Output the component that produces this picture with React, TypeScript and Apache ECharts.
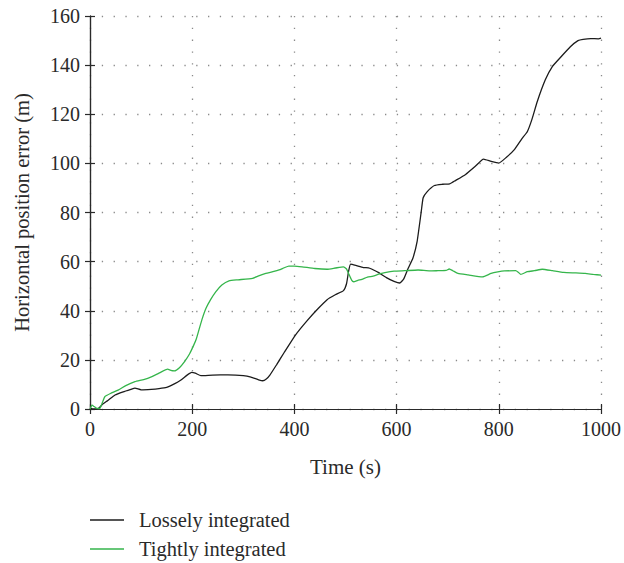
import React, { useEffect, useRef } from "react";
import * as echarts from "echarts";

const xTicks = [0, 200, 400, 600, 800, 1000];
const yTicks = [0, 20, 40, 60, 80, 100, 120, 140, 160];

const looseTime = [0, 8, 16, 25, 35, 49, 65, 80, 88, 100, 120, 135, 150, 165, 178, 190, 199, 206, 217, 240, 270, 300, 315, 330, 338, 345, 352, 365, 380, 402, 425, 447, 464, 480, 496, 502, 506, 510, 520, 535, 545, 551, 565, 580, 595, 606, 614, 622, 632, 640, 648, 652, 660, 674, 690, 704, 715, 735, 755, 770, 785, 800, 815, 830, 845, 856, 865, 875, 891, 905, 920, 940, 955, 965, 980, 995, 1000];
const looseValue = [0.3, 0, 0.2, 2, 3.5, 5.7, 7, 8, 8.5, 7.8, 8, 8.3, 8.8, 10.2, 11.8, 13.8, 14.9, 14.6, 13.6, 13.8, 13.9, 13.6, 13, 11.9, 11.5, 12.2, 13.8, 18, 23, 30.1, 36, 41, 44.5, 46.5, 48.2, 51, 56, 59, 58.5, 57.6, 57.5, 57, 55.5, 53.5, 52, 51.3, 53, 57, 61.5, 68, 80, 86, 88.5, 91, 91.5, 91.7, 93, 95.5, 99, 101.7, 100.8, 100.1, 102.5, 105.5, 110, 113, 118, 125, 134, 139.5, 143, 147.5, 150, 150.5, 150.8, 150.7, 151];

const tightTime = [0, 4, 8, 13, 19, 24, 29, 40, 55, 70, 88, 105, 120, 135, 152, 158, 165, 175, 185, 195, 203, 208, 214, 220, 227, 236, 246, 258, 272, 290, 318, 330, 344, 358, 370, 380, 389, 400, 415, 440, 464, 480, 496, 502, 506, 512, 516, 524, 532, 543, 554, 565, 577, 595, 616, 642, 665, 681, 697, 703, 710, 720, 740, 768, 785, 798, 811, 833, 838, 843, 856, 870, 885, 905, 927, 950, 969, 985, 1000];
const tightValue = [0, 1.6, 1, 0.3, 0.2, 2.5, 5, 6.3, 7.7, 9.5, 11.1, 12, 13.1, 14.6, 16.2, 15.7, 15.5, 16.8, 19.3, 22.5, 26, 28.5, 32.8, 37, 41, 44.5, 47.7, 50.5, 52.2, 52.6, 53.2, 54.2, 55.2, 55.9, 56.6, 57.5, 58.2, 58.2, 57.9, 57.2, 56.9, 57.4, 57.9, 57, 55.2, 52.5, 51.8, 52.4, 52.8, 53.7, 54.1, 54.9, 55.5, 56.1, 56.3, 56.6, 56.2, 56.3, 56.4, 57, 56.3, 55.2, 54.6, 53.8, 55.2, 55.8, 56.2, 56.3, 55.7, 54.8, 55.9, 56.3, 56.9, 56.3, 55.6, 55.4, 55.2, 54.8, 54.5];

const seriesNames = ["Lossely integrated", "Tightly integrated"];
const seriesColors = ["#1c1c1c", "#35b54b"];

const FONT = "Liberation Serif";
const TXT = "#2a2a2a";
const AX = "#2a2a2a";

export default function App() {
  const ref = useRef<HTMLDivElement>(null);
  useEffect(() => {
    if (!ref.current) return;
    const chart = echarts.init(ref.current, undefined, { renderer: "svg" });
    const zip = (t: number[], v: number[]) => t.map((x, i) => [x, v[i]]);
    const axisCommon = {
      axisLine: { show: true, lineStyle: { color: AX, width: 1.2 } },
      axisTick: { show: true, inside: true, length: 5, lineStyle: { color: AX, width: 1.2 } },
    };
    const grid = { show: true, lineStyle: { color: "#8a8a8a", width: 1.3, type: [1.3, 10.5] } };
    chart.setOption({
      animation: false,
      backgroundColor: "#ffffff",
      textStyle: { fontFamily: FONT },
      grid: { left: 90, top: 16, width: 514, height: 393, containLabel: false },
      legend: {
        orient: "vertical",
        left: 90,
        top: 509,
        padding: 0,
        itemWidth: 34,
        itemHeight: 1.5,
        itemGap: 7,
        icon: "rect",
        data: seriesNames,
        textStyle: { fontFamily: FONT, fontSize: 20.5, color: TXT, padding: [0, 0, 0, 10], lineHeight: 22 },
      },
      xAxis: [
        {
          type: "value",
          min: 0,
          max: 1000,
          interval: 200,
          position: "bottom",
          name: "Time (s)",
          nameLocation: "middle",
          nameGap: 47,
          nameTextStyle: { fontFamily: FONT, fontSize: 21, color: TXT },
          ...axisCommon,
          axisLabel: {
            fontFamily: FONT,
            fontSize: 20,
            color: TXT,
            margin: 10,
            customValues: xTicks,
            formatter: (v: number) => String(v),
          },
          splitLine: grid,
        },
        {
          type: "value",
          min: 0,
          max: 1000,
          interval: 200,
          position: "top",
          ...axisCommon,
          axisLabel: { show: false },
          splitLine: { show: false },
        },
      ],
      yAxis: [
        {
          type: "value",
          min: 0,
          max: 160,
          interval: 20,
          position: "left",
          name: "Horizontal position error (m)",
          nameLocation: "middle",
          nameGap: 58,
          nameTextStyle: { fontFamily: FONT, fontSize: 20.5, color: TXT },
          ...axisCommon,
          axisLabel: {
            fontFamily: FONT,
            fontSize: 20,
            color: TXT,
            margin: 10,
            customValues: yTicks,
            formatter: (v: number) => String(v),
          },
          splitLine: grid,
        },
        {
          type: "value",
          min: 0,
          max: 160,
          interval: 20,
          position: "right",
          ...axisCommon,
          axisLabel: { show: false },
          splitLine: { show: false },
        },
      ],
      series: [
        {
          name: seriesNames[0],
          type: "line",
          data: zip(looseTime, looseValue),
          showSymbol: false,
          symbol: "none",
          smooth: 0.15,
          lineStyle: { color: seriesColors[0], width: 1.3 },
          itemStyle: { color: seriesColors[0] },
        },
        {
          name: seriesNames[1],
          type: "line",
          data: zip(tightTime, tightValue),
          showSymbol: false,
          symbol: "none",
          smooth: 0.15,
          lineStyle: { color: seriesColors[1], width: 1.3 },
          itemStyle: { color: seriesColors[1] },
        },
      ],
    });
    return () => chart.dispose();
  }, []);
  return <div ref={ref} style={{ width: 624, height: 563, position: "absolute", left: 0, top: 0 }} />;
}
